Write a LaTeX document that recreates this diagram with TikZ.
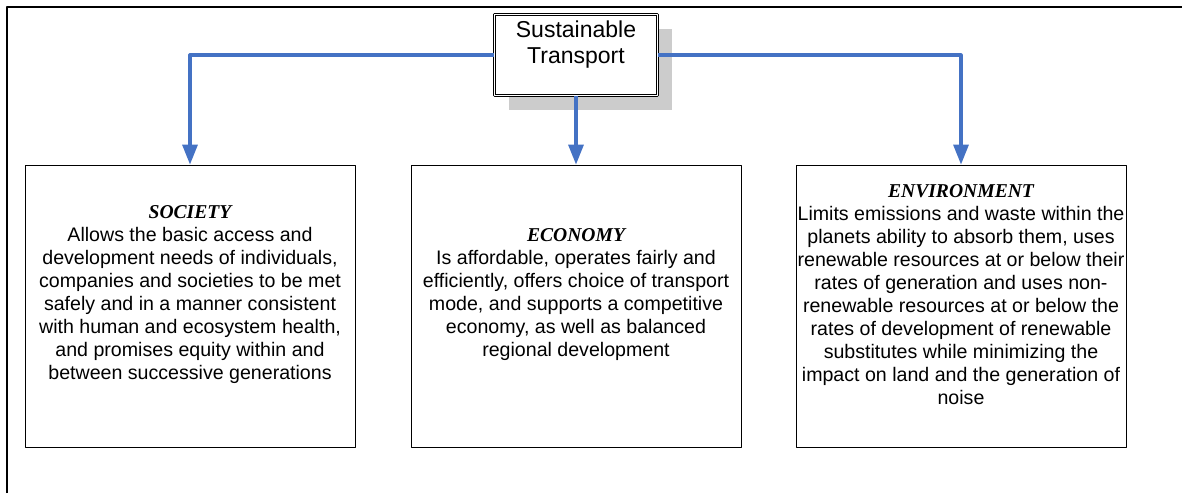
\documentclass[tikz,border=0pt]{standalone}
\usepackage{fontspec}
\setmainfont{Liberation Sans}
\newfontfamily\titlefont{Liberation Serif}
\usetikzlibrary{arrows.meta,shadows}
\definecolor{linkblue}{RGB}{68,114,196}
\newcommand{\boxhead}[1]{{\titlefont\bfseries\itshape #1}}
\begin{document}
\begin{tikzpicture}[x=1pt, y=-1pt, line join=round,
    box/.style={draw, line width=0.8pt, minimum width=330pt, minimum height=282pt, inner sep=0pt},
    boxtext/.style={align=center, inner sep=0pt, font=\fontsize{19.6}{23}\selectfont},
    topbox/.style={draw, double, double distance=1.6pt, line width=0.7pt, fill=white, minimum width=163pt, minimum height=81pt, inner sep=0pt,
        drop shadow={shadow xshift=14pt, shadow yshift=-14pt, fill=black!20, opacity=1}},
    toptext/.style={align=center, inner sep=0pt, font=\fontsize{23}{26.5}\selectfont},
    link/.style={draw=linkblue, line width=3.2pt, -{Triangle[width=15pt,length=20pt]}}]
        \useasboundingbox (0,0) rectangle (1182,493);
        \draw[line width=1.8pt] (7,493) -- (7,7) -- (1182,7);

        \node[topbox] (st) at (576,55) {};
        \node[toptext, anchor=north] (sttext) at ([yshift=-6pt]st.north) {Sustainable\\Transport};

        \node[box] (soc) at (190,306) {};
        \node[box] (eco) at (576,306) {};
        \node[box] (env) at (961,306) {};

        \node[boxtext] (soctext) at ([yshift=11.5pt]soc.center) {\boxhead{SOCIETY}\\
            Allows the basic access and\\
            development needs of individuals,\\
            companies and societies to be met\\
            safely and in a manner consistent\\
            with human and ecosystem health,\\
            and promises equity within and\\
            between successive generations};
        \node[boxtext] (ecotext) at ([yshift=11.5pt]eco.center) {\boxhead{ECONOMY}\\
            Is affordable, operates fairly and\\
            efficiently, offers choice of transport\\
            mode, and supports a competitive\\
            economy, as well as balanced\\
            regional development};
        \node[boxtext] (envtext) at ([yshift=11.5pt]env.center) {\boxhead{ENVIRONMENT}\\
            Limits emissions and waste within the\\
            planets ability to absorb them, uses\\
            renewable resources at or below their\\
            rates of generation and uses non-\\
            renewable resources at or below the\\
            rates of development of renewable\\
            substitutes while minimizing the\\
            impact on land and the generation of\\
            noise};

        \draw[link] (st.west) -| (soc.north);
        \draw[link] (st.south) -- (eco.north);
        \draw[link] (st.east) -| (env.north);
\end{tikzpicture}
\end{document}
